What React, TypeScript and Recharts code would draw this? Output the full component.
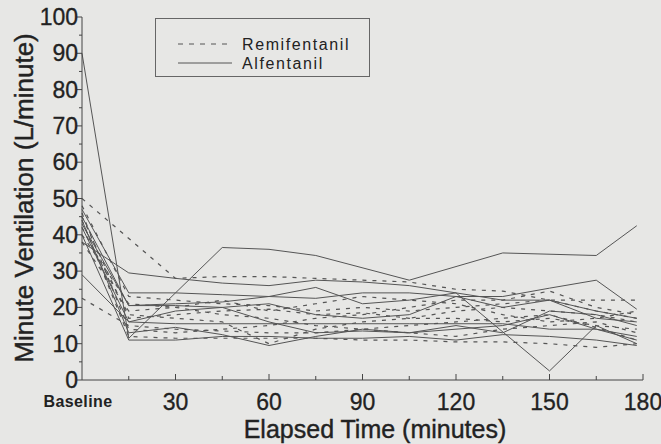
import React from 'react';
import { LineChart, Line, XAxis, YAxis, Legend } from 'recharts';

const times = [0, 15, 30, 45, 60, 75, 90, 105, 120, 135, 150, 165, 178];
const xTicks = [0, 15, 30, 45, 60, 75, 90, 105, 120, 135, 150, 165, 180];
const xTickLabels = ['Baseline', '30', '60', '90', '120', '150', '180'];
const yTicks = [0, 5, 10, 15, 20, 25, 30, 35, 40, 45, 50, 55, 60, 65, 70, 75, 80, 85, 90, 95, 100];

// Alfentanil subjects (solid)
const a1 = [90, 11.5, null, 36.5, 36, 34.3, null, 27.5, null, 35, null, 34.3, 42.5];
const a2 = [43, 20.5, 21, 21.5, 23, 25.5, 21, 22, 24, null, 2.5, 15, 10];
const a3 = [47, 24, 24, 23.5, 23, 22.5, 24, 24, 23, 23, 25.3, 27.5, 19.5];
const a4 = [38, 29.5, 28, 26.7, 26, 27.5, 27, 26, 24, 22, 22, 19, 17];
const a5 = [29, 16, 15.5, 15.5, 15.5, 15.5, 15.5, 15.5, 15.5, 15.5, 14, 14, 12];
const a6 = [40, 11, 11, 12, 12, 11.5, 11.5, 12, 11, 12.5, 12, 11, 9.5];
const a7 = [45, 20.5, 20.5, 20, 21, 18, 17, 18, 23, 20, 22, 17, 16];
const a8 = [42, 16, 19, 20, 16, 13, 13.5, 13, 14, 15, 18, 14, 11];
const a9 = [44, 13, 14.5, 12.5, 9.5, 12, 14, 13, 15, 13, 19, 18, 15];

// Remifentanil subjects (dashed)
const r1 = [50, null, 28, 28.5, 28.5, 28, 27.5, 27, 25, 24.5, 22, 22, 22];
const r2 = [48, 23, 22, 21, 20.5, 19, 20, 19, 20, 21, 22, 19, 17];
const r3 = [45, 17, 18, 19, 19.5, 18, 18.5, 17, 17, 16, 17, 15, 14];
const r4 = [22.5, 15, 14, 13.5, 13, 13, 14, 15, 16, 17, 18, 14.5, 11];
const r5 = [44, 12, 11.5, 11.5, 11.5, 11.5, 11, 11, 10.5, 10.5, 10, 9, 10];
const r6 = [42, 18, 17, 16, 10, 14, 16, 17, 19, 20, 19, 18, 16];
const r7 = [40, 21, 20, 18, 17, 15, 14, 13, 12, 14, 15, 16, 13];
const r8 = [46, 14, 13, 14, 15, 17, 18, 20, 22, 22, 24.5, 20, 18];
const r9 = [38, 19, 20, 22, 19, 21, 23, 22, 21, 18, 16, 17, 19];

const alfentanil = [a1, a2, a3, a4, a5, a6, a7, a8, a9];
const remifentanil = [r1, r2, r3, r4, r5, r6, r7, r8, r9];

const rows = times.map((t, i) => {
  const row: any = { t };
  alfentanil.forEach((s, k) => { row['a' + k] = s[i]; });
  remifentanil.forEach((s, k) => { row['r' + k] = s[i]; });
  return row;
});

const FONT = '"Liberation Sans", Arial, Helvetica, sans-serif';
const INK = '#222';
const LINE = '#555';
const AXIS = '#444';

const XTick = (props: any) => {
  const { x, y, payload } = props;
  const v = payload.value as number;
  const major = v % 30 === 0;
  const label = major ? xTickLabels[v / 30] : '';
  return (
    <g>
      {v !== 0 && <line x1={x} x2={x} y1={y} y2={y - (major ? 6 : 4)} stroke={AXIS} strokeWidth={1} />}
      {label && v === 0 && (
        <text x={x - 4} y={y + 27} textAnchor="middle" fontFamily={FONT} fontSize={16} fontWeight={700} fill={INK} letterSpacing={0.4}>
          {label}
        </text>
      )}
      {label && v !== 0 && (
        <text x={x} y={y + 30} textAnchor="middle" fontFamily={FONT} fontSize={23} fill={INK} stroke={INK} strokeWidth={0.3}>
          {label}
        </text>
      )}
    </g>
  );
};

const YTick = (props: any) => {
  const { x, y, payload } = props;
  const v = payload.value as number;
  const major = v % 10 === 0;
  return (
    <g>
      <line x1={x} x2={x - (major ? 5 : 3)} y1={y} y2={y} stroke={AXIS} strokeWidth={1} />
      {major && (
        <text x={x - 4} y={y + 8} textAnchor="end" fontFamily={FONT} fontSize={23} fill={INK} stroke={INK} strokeWidth={0.3}>
          {v}
        </text>
      )}
    </g>
  );
};

const LegendBox = () => (
  <div
    style={{
      width: 215,
      height: 59,
      border: '1px solid #666',
      boxSizing: 'border-box',
      position: 'relative',
      fontFamily: FONT,
      color: INK,
    }}
  >
    <svg width={215} height={59} style={{ position: 'absolute', left: 0, top: 0 }}>
      <line x1={22} x2={76} y1={25} y2={25} stroke={LINE} strokeWidth={1} strokeDasharray="5 6" />
      <line x1={22} x2={76} y1={44} y2={44} stroke={LINE} strokeWidth={1} />
      <text x={86} y={30.5} fontFamily={FONT} fontSize={16} fill={INK} letterSpacing={1.6}>Remifentanil</text>
      <text x={86} y={49.5} fontFamily={FONT} fontSize={16} fill={INK} letterSpacing={1.6}>Alfentanil</text>
    </svg>
  </div>
);

export default function App() {
  return (
    <div style={{ position: 'absolute', left: 0, top: 0, width: 661, height: 444, background: '#e7e7e5', overflow: 'hidden' }}>
      <LineChart width={661} height={444} data={rows} margin={{ top: 17, right: 18, left: 0, bottom: 0 }}>
        <XAxis
          dataKey="t"
          type="number"
          domain={[0, 180]}
          ticks={xTicks}
          interval={0}
          height={64}
          tickSize={0}
          tickMargin={0}
          tickLine={false}
          tick={<XTick />}
          axisLine={{ stroke: AXIS, strokeWidth: 1 }}
          label={{
            content: () => (
              <text x={375} y={438} textAnchor="middle" fontFamily={FONT} fontSize={25} fill={INK} stroke={INK} strokeWidth={0.4}>
                Elapsed Time (minutes)
              </text>
            ),
          }}
        />
        <YAxis
          type="number"
          domain={[0, 100]}
          ticks={yTicks}
          interval={0}
          width={82}
          tickSize={0}
          tickMargin={0}
          tickLine={false}
          tick={<YTick />}
          axisLine={{ stroke: AXIS, strokeWidth: 1 }}
          label={{
            content: () => (
              <text
                x={24}
                y={198}
                transform="rotate(-90 24 198)"
                textAnchor="middle"
                dominantBaseline="central"
                fontFamily={FONT}
                fontSize={26}
                fill={INK}
                stroke={INK}
                strokeWidth={0.4}
              >
                Minute Ventilation (L/minute)
              </text>
            ),
          }}
        />
        <Legend
          layout="horizontal"
          verticalAlign="middle"
          align="center"
          content={<LegendBox />}
          wrapperStyle={{ position: 'absolute', left: 155, top: 18, width: 215, height: 59 }}
        />
        {alfentanil.map((_, k) => (
          <Line
            key={'a' + k}
            dataKey={'a' + k}
            type="linear"
            stroke={LINE}
            strokeWidth={1}
            dot={false}
            connectNulls
            isAnimationActive={false}
            legendType="none"
          />
        ))}
        {remifentanil.map((_, k) => (
          <Line
            key={'r' + k}
            dataKey={'r' + k}
            type="linear"
            stroke={LINE}
            strokeWidth={1.2}
            strokeDasharray="4 6"
            dot={false}
            connectNulls
            isAnimationActive={false}
            legendType="none"
          />
        ))}
      </LineChart>
    </div>
  );
}
